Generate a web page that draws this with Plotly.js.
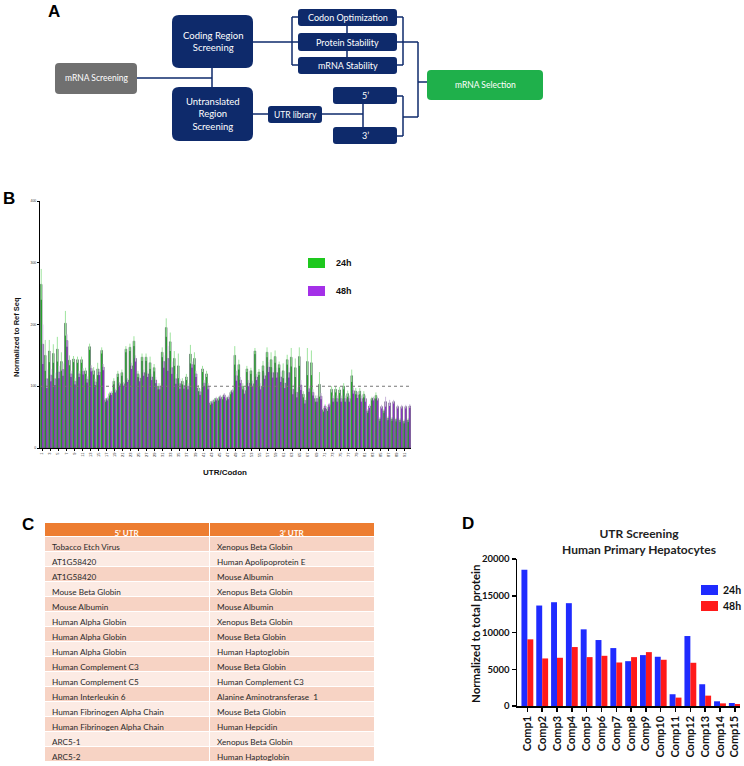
<!DOCTYPE html>
<html>
<head>
<meta charset="utf-8">
<script src="https://cdn.plot.ly/plotly-3.0.1.min.js"></script>
<style>html,body{margin:0;padding:0;background:#fff;}#chart{width:744px;height:766px;}</style>
</head>
<body>
<div id="chart"></div>
<script>
// ---------- Panel B data ----------
const utrCodon = ["1","2","3","4","5","6","7","8","9","10","11","12","13","14","15","16","17","18","19","20","21","22","23","24","25","26","27","28","29","30","31","32","33","34","35","36","37","38","39","40","41","42","43","44","45","46","47","48","49","50","51","52","53","54","55","56","57","58","59","60","61","62","63","64","65","66","67","68","69","70","71","72","73","74","75","76","77","78","79","80","81","82","83","84","85","86","87","88","89","90","91","92"];
const ref24h = [265,150,157,153,160,140,202,142,144,143, 143,125,164,125,128,158,78,88,108,120, 122,160,163,173,120,147,147,138,130,100, 155,195,172,145,133,108,115,152,145,97, 128,120,73,78,80,82,80,90,150,135, 100,128,125,157,123,133,155,143,148,135, 125,143,147,130,148,87,140,138,80,103, 62,63,95,95,94,100,88,117,92,92, 87,60,80,85,47,60,48,47,46,45, 43,45];
const ref48h = [168,112,118,112,123,127,174,120,108,120, 124,111,129,107,123,131,80,89,93,104, 104,110,133,145,113,122,120,115,110,100, 140,145,130,112,104,101,100,135,120,91, 105,100,75,80,83,86,82,93,117,110, 93,105,104,115,100,117,131,122,122,115, 105,122,95,90,102,77,96,90,80,84, 68,70,80,80,80,80,80,93,86,80, 80,68,80,80,67,75,73,75,67,67, 67,68];
const err24h = [25,25,18,15,20,15,20,8,5,5, 5,5,5,6,10,5,3,3,5,5, 5,5,6,8,5,6,6,10,6,5, 8,15,15,12,20,5,5,15,10,5, 5,5,3,3,3,3,3,3,15,8, 5,5,5,5,5,8,8,12,10,5, 12,8,15,15,15,5,22,20,5,20, 3,3,5,5,5,5,5,10,5,5, 5,3,3,5,3,3,3,3,3,3, 3,3];
const err48h = [32,15,10,10,10,10,10,5,5,5, 5,5,5,5,5,5,3,3,3,3, 3,3,5,5,5,5,5,5,5,5, 10,20,10,8,8,5,5,5,5,5, 5,5,3,3,3,3,3,3,8,5, 5,5,5,5,5,5,8,8,8,8, 8,8,8,8,8,5,5,5,5,5, 3,3,5,5,5,5,5,5,5,5, 5,3,3,3,3,8,5,3,3,3, 3,3];
const bYTicks = [0,100,200,300,400];

// ---------- Panel C data ----------
const tableHeader = ["5’ UTR","3’ UTR"];
const utr5 = ["Tobacco Etch Virus","AT1G58420","AT1G58420","Mouse Beta Globin","Mouse Albumin","Human Alpha Globin","Human Alpha Globin","Human Alpha Globin","Human Complement C3","Human Complement C5","Human Interleukin 6","Human Fibrinogen Alpha Chain","Human Fibrinogen Alpha Chain","ARC5-1","ARC5-2"];
const utr3 = ["Xenopus Beta Globin","Human Apolipoprotein E","Mouse Albumin","Xenopus Beta Globin","Mouse Albumin","Xenopus Beta Globin","Mouse Beta Globin","Human Haptoglobin","Mouse Beta Globin","Human Complement C3","Alanine Aminotransferase  1","Mouse Beta Globin","Human Hepcidin","Xenopus Beta Globin","Human Haptoglobin"];

// ---------- Panel D data ----------
const comps = ["Comp1","Comp2","Comp3","Comp4","Comp5","Comp6","Comp7","Comp8","Comp9","Comp10","Comp11","Comp12","Comp13","Comp14","Comp15"];
const prot24h = [18540,13670,14120,13990,10430,8975,7880,6100,6925,6700,1600,9520,2960,640,410];
const prot48h = [9070,6470,6560,8020,6650,6830,5920,6650,7330,6290,1140,5880,1410,360,270];
const dYTicks = [0,5000,10000,15000,20000];
const dYTickText = ["0","5000","10000","15000","20000"];

// ---------- Panel A text ----------
const flowLabels = {
  screening: "mRNA Screening",
  coding: "Coding Region<br>Screening",
  utr: "Untranslated<br>Region<br>Screening",
  codon: "Codon Optimization",
  protein: "Protein Stability",
  mrnaStab: "mRNA Stability",
  library: "UTR library",
  five: "5’",
  three: "3’",
  selection: "mRNA Selection"
};

// ---------- helpers (pixel -> paper) ----------
const W = 744, H = 766;
const X = p => p / W;
const Y = p => 1 - p / H;
const NAVY = "#0e2a6b";

function rrect(x0, y0, x1, y1, r, color) {
  const P = (x, y) => X(x).toFixed(5) + "," + Y(y).toFixed(5);
  const d = "M" + P(x0 + r, y0) + " L" + P(x1 - r, y0) + " Q" + P(x1, y0) + " " + P(x1, y0 + r) +
    " L" + P(x1, y1 - r) + " Q" + P(x1, y1) + " " + P(x1 - r, y1) +
    " L" + P(x0 + r, y1) + " Q" + P(x0, y1) + " " + P(x0, y1 - r) +
    " L" + P(x0, y0 + r) + " Q" + P(x0, y0) + " " + P(x0 + r, y0) + " Z";
  return {type: "path", xref: "paper", yref: "paper", path: d, fillcolor: color, line: {width: 0}, layer: "above"};
}
function seg(x0, y0, x1, y1) {
  return {type: "line", xref: "paper", yref: "paper", x0: X(x0), y0: Y(y0), x1: X(x1), y1: Y(y1),
    line: {color: NAVY, width: 1.5}, layer: "below"};
}
function txt(t, cx, cy, font, extra) {
  return Object.assign({xref: "paper", yref: "paper", x: X(cx), y: Y(cy), text: t, showarrow: false,
    xanchor: "center", yanchor: "middle", font: font, align: "center"}, extra || {});
}
function boxText(t, cx, cy, size) {
  return txt(t, cx, cy, {family: "Lato", size: size, color: "#fff"});
}
function panelLabel(t, cx, cy) {
  return txt("<b>" + t + "</b>", cx, cy, {family: "Liberation Sans", size: 17, color: "#000"});
}

// ---------- shapes ----------
const shapes = [
  // Panel A connectors
  seg(137, 78, 212, 78), seg(212, 68, 212, 87),
  seg(253, 42, 298, 42),
  seg(292, 17, 292, 65), seg(292, 17, 298, 17), seg(292, 65, 298, 65),
  seg(347, 26, 347, 33), seg(347, 51, 347, 57),
  seg(397, 17, 403, 17), seg(397, 65, 403, 65), seg(403, 17, 403, 65),
  seg(397, 42, 418, 42), seg(418, 42, 418, 117), seg(418, 82, 427, 82),
  seg(253, 114, 268, 114), seg(322, 114, 363, 114), seg(363, 104, 363, 127),
  seg(397, 96, 403, 96), seg(397, 136, 403, 136), seg(403, 96, 403, 136), seg(403, 117, 418, 117),
  // Panel A boxes
  rrect(55, 63, 137, 94, 4, "#707070"),
  rrect(172, 15, 253, 68, 7, NAVY),
  rrect(172, 87, 253, 141, 7, NAVY),
  rrect(298, 9, 397, 26, 3, NAVY),
  rrect(298, 33, 397, 51, 3, NAVY),
  rrect(298, 57, 397, 74, 3, NAVY),
  rrect(268, 106, 322, 123, 3, NAVY),
  rrect(333, 87, 397, 104, 3, NAVY),
  rrect(333, 127, 397, 144, 3, NAVY),
  rrect(427, 70, 543, 100, 4, "#1fb04b"),
  // panel B: reference line and legend swatches
  {type: "line", xref: "x domain", yref: "y", x0: 0, x1: 1, y0: 100, y1: 100, line: {color: "#777", width: 1, dash: "dot"}},
  {type: "rect", xref: "paper", yref: "paper", x0: X(308), x1: X(325), y0: Y(268), y1: Y(258), fillcolor: "#1ec81e", line: {width: 0}},
  {type: "rect", xref: "paper", yref: "paper", x0: X(308), x1: X(325), y0: Y(296), y1: Y(286), fillcolor: "#a430e8", line: {width: 0}},
  // panel D legend swatches
  {type: "rect", xref: "paper", yref: "paper", x0: X(701), x1: X(718), y0: Y(595), y1: Y(585), fillcolor: "#1f2bff", line: {width: 0}},
  {type: "rect", xref: "paper", yref: "paper", x0: X(701), x1: X(718), y0: Y(611), y1: Y(601), fillcolor: "#ff1a1a", line: {width: 0}}
];

const annotations = [
  panelLabel("A", 54, 11), panelLabel("B", 9, 198), panelLabel("C", 28, 524), panelLabel("D", 468, 523),
  boxText(flowLabels.screening, 96, 78.5, 8.5),
  boxText(flowLabels.coding, 212.5, 41.5, 9.5),
  boxText(flowLabels.utr, 212.5, 114, 9.5),
  boxText(flowLabels.codon, 347.5, 17.5, 9),
  boxText(flowLabels.protein, 347.5, 42, 9),
  boxText(flowLabels.mrnaStab, 347.5, 65.5, 9),
  boxText(flowLabels.library, 295, 114.5, 8.5),
  boxText(flowLabels.five, 365, 95.5, 9),
  boxText(flowLabels.three, 365, 135.5, 9),
  boxText(flowLabels.selection, 485, 85, 8.5),
  // panel B titles / legend text
  txt("<b>Normalized to Ref Seq</b>", 16, 337, {family: "Liberation Sans", size: 7.5, color: "#111"}, {textangle: -90}),
  txt("<b>UTR/Codon</b>", 225, 472, {family: "Liberation Sans", size: 8, color: "#111"}),
  txt("<b>24h</b>", 334, 263, {family: "Liberation Sans", size: 9, color: "#111"}, {xanchor: "left"}),
  txt("<b>48h</b>", 334, 291, {family: "Liberation Sans", size: 9, color: "#111"}, {xanchor: "left"}),
  // panel D titles / legend text
  txt("<b>UTR Screening<br>Human Primary Hepatocytes</b>", 639, 541, {family: "Lato", size: 12, color: "#222"}),
  txt("<b>Normalized to total protein</b>", 475, 634, {family: "Lato", size: 11.5, color: "#111"}, {textangle: -90}),
  txt("<b>24h</b>", 721, 590, {family: "Lato", size: 10.5, color: "#111"}, {xanchor: "left"}),
  txt("<b>48h</b>", 721, 606, {family: "Lato", size: 10.5, color: "#111"}, {xanchor: "left"})
];

// ---------- traces ----------
const rowFill = utr5.map((_, i) => i % 2 === 0 ? "#f7d3c4" : "#fcebe4");
const traces = [
  {type: "bar", x: utrCodon, y: ref24h, xaxis: "x", yaxis: "y", name: "24h",
    marker: {color: "#1ec81e", line: {color: "#445", width: 0.6}},
    error_y: {type: "data", array: err24h, visible: true, color: "#9fe49f", thickness: 1, width: 0}},
  {type: "bar", x: utrCodon, y: ref48h, xaxis: "x", yaxis: "y", name: "48h",
    marker: {color: "#a430e8", line: {color: "#445", width: 0.6}},
    error_y: {type: "data", array: err48h, visible: true, color: "#cbb8dc", thickness: 1, width: 0}},
  {type: "bar", x: comps, y: prot24h, xaxis: "x2", yaxis: "y2", name: "24h", marker: {color: "#1f2bff"}},
  {type: "bar", x: comps, y: prot48h, xaxis: "x2", yaxis: "y2", name: "48h", marker: {color: "#ff1a1a"}},
  {type: "table", domain: {x: [X(44), X(374)], y: [Y(766), Y(522)]}, columnwidth: [165, 165],
    header: {values: tableHeader, align: "center", height: 14,
      fill: {color: "#ed7d31"}, line: {color: "#fff", width: 1}, font: {family: "Lato", size: 8, color: "#fff", weight: 700}},
    cells: {values: [utr5, utr3], align: "left", height: 15,
      fill: {color: [rowFill, rowFill]}, line: {color: "#fff", width: 1}, font: {family: "Lato", size: 8.2, color: "#2a2a2a"}}}
];

const layout = {
  width: W, height: H, margin: {l: 0, r: 0, t: 0, b: 0}, showlegend: false,
  paper_bgcolor: "#fff", plot_bgcolor: "rgba(0,0,0,0)",
  barmode: "group", bargap: 0.2, bargroupgap: 0,
  xaxis: {domain: [X(40), X(411)], anchor: "y", type: "category", range: [-0.5, utrCodon.length - 0.5],
    tickangle: -90, tickfont: {family: "Liberation Sans", size: 4, color: "#222"},
    showline: true, linecolor: "#000", linewidth: 1, ticks: "outside", ticklen: 2, tickcolor: "#000", showgrid: false},
  yaxis: {domain: [Y(448), Y(201)], anchor: "x", range: [0, 400], tickvals: bYTicks,
    tickfont: {family: "Liberation Sans", size: 3.5, color: "#333"},
    showline: true, linecolor: "#000", linewidth: 1, ticks: "outside", ticklen: 2, tickcolor: "#000", showgrid: false, zeroline: false},
  xaxis2: {domain: [X(517), X(740)], anchor: "y2", type: "category", range: [-0.7, 14.35], tickangle: -90,
    tickfont: {family: "Lato", size: 11, color: "#111", weight: 700},
    showline: true, linecolor: "#000", linewidth: 1.5, ticks: "outside", ticklen: 4, tickwidth: 1.5, tickcolor: "#000", showgrid: false},
  yaxis2: {domain: [Y(706), Y(559)], anchor: "x2", range: [0, 20000], tickvals: dYTicks, ticktext: dYTickText,
    tickfont: {family: "Lato", size: 9.5, color: "#111", weight: 700},
    showline: true, linecolor: "#000", linewidth: 1.5, ticks: "outside", ticklen: 4, tickwidth: 1.5, tickcolor: "#000", showgrid: false, zeroline: false},
  shapes: shapes,
  annotations: annotations
};

Plotly.newPlot("chart", traces, layout, {displayModeBar: false, staticPlot: true});
</script>
</body>
</html>
